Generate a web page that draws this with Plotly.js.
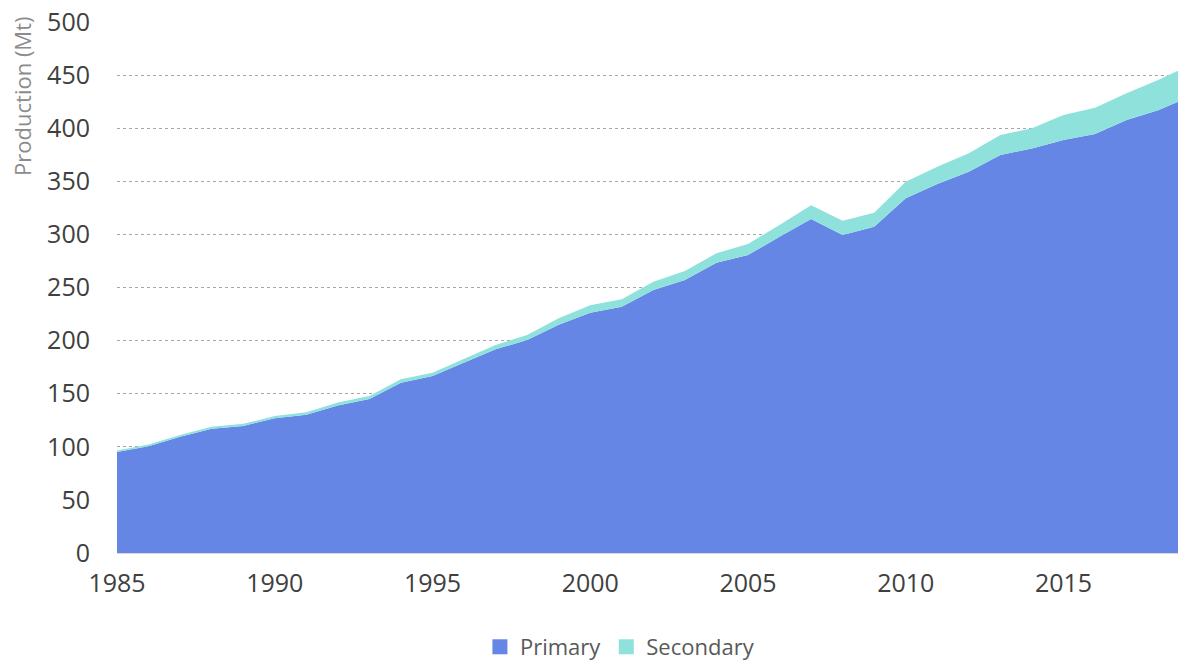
<!DOCTYPE html>
<html>
<head>
<meta charset="utf-8">
<script src="https://cdn.plot.ly/plotly-3.0.1.min.js"></script>
<style>
  html, body { margin: 0; padding: 0; background: #ffffff; }
  #chart { width: 1178px; height: 662px; }
</style>
</head>
<body>
<div id="chart"></div>
<script>
const years = [1985, 1986, 1987, 1988, 1989, 1990, 1991, 1992, 1993, 1994,
               1995, 1996, 1997, 1998, 1999, 2000, 2001, 2002, 2003, 2004,
               2005, 2006, 2007, 2008, 2009, 2010, 2011, 2012, 2013, 2014,
               2015, 2016, 2017, 2018, 2019];
const primary = [95, 100.5, 109.5, 117, 119.6, 127, 130.2, 139, 145, 160.4,
                 166.7, 179, 191.8, 200.6, 215, 226.3, 231.9, 247.6, 257, 273.4,
                 280.6, 297.8, 314.5, 299.4, 307.3, 334, 347.5, 359, 374.8, 381,
                 388.9, 394.5, 407.7, 417, 429.5];
const secondary = [1.5, 1.6, 1.5, 1.9, 2, 2, 2.3, 2.6, 2.8, 3.1,
                   3.1, 3.7, 4.1, 4.7, 6, 6.9, 7, 7.9, 8.5, 8.8,
                   10.4, 11.1, 12.9, 13.5, 13.1, 15.6, 16.3, 17.4, 18.8, 18.9,
                   23.5, 24.8, 25.2, 28.4, 29.8];
const seriesNames = ["Primary", "Secondary"];
const seriesColors = ["rgb(101,134,229)", "rgb(143,225,219)"];
const yTitle = "Production (Mt)";

const FONT = "'Segoe UI', 'Open Sans', 'Noto Sans', sans-serif";

const traces = [
  {
    x: years, y: primary, name: seriesNames[0], type: "scatter", mode: "lines",
    stackgroup: "one", line: { width: 0, color: seriesColors[0] },
    fillcolor: seriesColors[0], showlegend: false, hoverinfo: "x+y+name"
  },
  {
    x: years, y: secondary, name: seriesNames[1], type: "scatter", mode: "lines",
    stackgroup: "one", line: { width: 0, color: seriesColors[1] },
    fillcolor: seriesColors[1], showlegend: false, hoverinfo: "x+y+name"
  },
  // legend entries (square swatches)
  {
    x: [null], y: [null], name: seriesNames[0], type: "scatter", mode: "markers",
    marker: { symbol: "square", size: 15, color: seriesColors[0] }, showlegend: true
  },
  {
    x: [null], y: [null], name: seriesNames[1], type: "scatter", mode: "markers",
    marker: { symbol: "square", size: 15, color: seriesColors[1] }, showlegend: true
  }
];

const layout = {
  width: 1178, height: 662,
  margin: { l: 117, r: 0, t: 22, b: 109, autoexpand: false },
  paper_bgcolor: "#ffffff", plot_bgcolor: "#ffffff",
  font: { family: FONT, color: "#404040" },
  showlegend: true,
  legend: {
    orientation: "h", traceorder: "normal",
    x: 0.474, xanchor: "center", y: -0.177, yanchor: "middle",
    font: { family: FONT, size: 22, color: "#595959" },
    itemwidth: 30, tracegroupgap: 0
  },
  xaxis: {
    range: [1985, 2018.63], tick0: 1985, dtick: 5, tickmode: "linear",
    showgrid: false, zeroline: false,
    showline: true, linecolor: "#d9d9d9", linewidth: 1,
    ticks: "", ticklabelstandoff: 8,
    tickfont: { family: FONT, size: 25, color: "#404040" }
  },
  yaxis: {
    range: [0, 500], tick0: 0, dtick: 50, tickmode: "linear",
    showgrid: true, gridcolor: "#a6a6a6", gridwidth: 1, griddash: "dot",
    zeroline: false, showline: false, ticks: "",
    ticklabelstandoff: 26,
    tickfont: { family: FONT, size: 25, color: "#404040" }
  },
  annotations: [
    {
      text: yTitle, xref: "paper", yref: "paper",
      x: -0.0895, y: 0.859, xanchor: "center", yanchor: "middle",
      textangle: -90, showarrow: false,
      font: { family: FONT, size: 22, color: "#8c8c8c" }
    }
  ]
};

Plotly.newPlot("chart", traces, layout, { displayModeBar: false, staticPlot: true });
</script>
</body>
</html>
